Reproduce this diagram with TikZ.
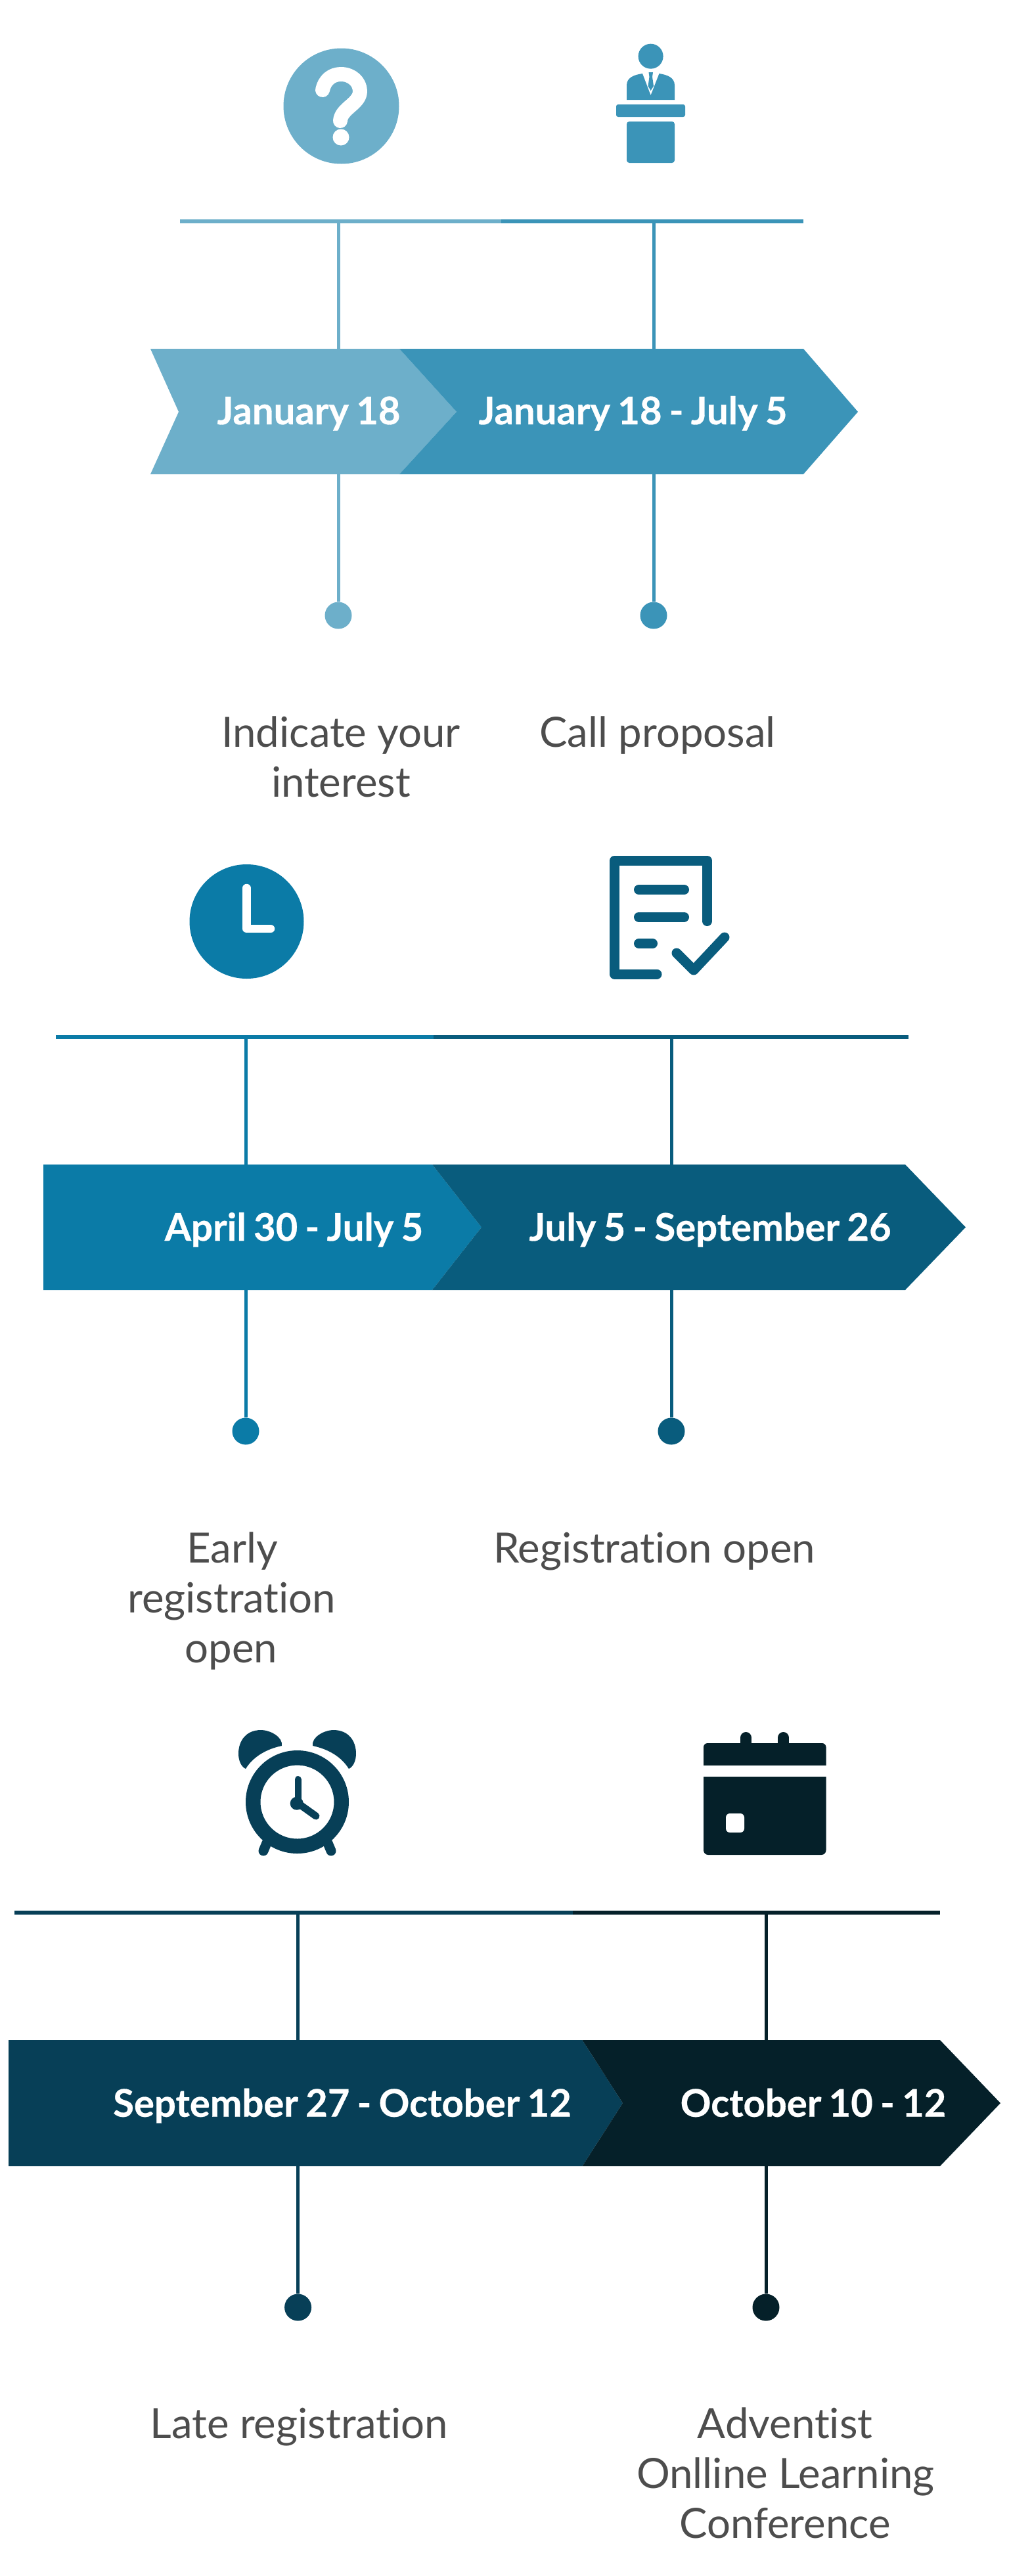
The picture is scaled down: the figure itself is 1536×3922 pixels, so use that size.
\documentclass[tikz,border=0pt]{standalone}
\usepackage{fontspec}
\setmainfont[Ligatures=NoCommon,BoldFeatures={FakeBold=0.5,WordSpace=0.8}]{Lato}
\definecolor{cA}{HTML}{6DAFCA}
\definecolor{cB}{HTML}{3B94B8}
\definecolor{cC}{HTML}{0B7BA7}
\definecolor{cD}{HTML}{095C7D}
\definecolor{cE}{HTML}{073F57}
\definecolor{cF}{HTML}{052029}
\definecolor{txt}{HTML}{4D4D4D}
\tikzset{
  x=1pt,y=-1pt,
  datetxt/.style={text=white,font=\fontsize{58}{58}\selectfont\bfseries,inner sep=0pt,anchor=base},
  lab/.style={text=txt,font=\fontsize{63.5}{76}\selectfont,inner sep=0pt,anchor=base},
  barline/.style={line width=6pt},
  vline/.style={line width=5pt},
  dotnode/.style={circle,inner sep=0pt,minimum size=41pt,fill=#1},
  iconline/.style={line cap=round,line join=round},
}
\begin{document}
\begin{tikzpicture}
\useasboundingbox (0,0) rectangle (1536,3922);
% ---------- row 1
\coordinate (b1l) at (274,337); \coordinate (b1m) at (763,337); \coordinate (b1r) at (1223,337);
\draw[barline,cA] (b1l) -- (b1m);
\draw[barline,cB] (b1m) -- (b1r);
\coordinate (t1a) at (515,337); \coordinate (t1b) at (995,337);
\node[dotnode=cA] (d1a) at (515,937) {};
\node[dotnode=cB] (d1b) at (995,937) {};
\draw[vline,cA] (t1a) -- (d1a);
\draw[vline,cB] (t1b) -- (d1b);
\fill[cA] (229,531) -- (608,531) -- (695,627) -- (608,722) -- (229,722) -- (272,627) -- cycle;
\fill[cB] (608,531) -- (1223,531) -- (1306,627) -- (1223,722) -- (608,722) -- (695,627) -- cycle;
\node[datetxt] (n1a) at (470,646) {January 18};
\node[datetxt] (n1b) at (963.5,646) {January 18 - July 5};
\node[lab] (l1a) at (519,1137) {Indicate your};
\node[lab] (l1a2) at (519,1213) {interest};
\node[lab] (l1b) at (1001,1137) {Call proposal};
% question icon
\fill[cA] (519.5,161.5) circle (88);
\draw[iconline,white,line width=22pt] (491,137) .. controls (494,122) and (505,113) .. (519,113) .. controls (536,113) and (548,125) .. (548,139) .. controls (548,158) and (519,165) .. (518,184);
\fill[white] (519,209) circle (12.5);
% podium icon
\fill[cB] (990.6,85.7) circle (19);
\fill[cB] (954,152) -- (954,130) .. controls (954,118) and (965,114) .. (978,112) -- (990.6,145) -- (1003.5,112) .. controls (1016,114) and (1027,118) .. (1027,130) -- (1027,152) -- cycle;
\fill[cB] (987.5,110) -- (994,110) -- (993,117) -- (995,131) -- (990.6,138) -- (986.5,131) -- (988.5,117) -- cycle;
\fill[cB,rounded corners=3pt] (938,159) rectangle (1043,178);
\fill[cB,rounded corners=4pt] (954,185) rectangle (1027,248);
% ---------- row 2
\coordinate (b2l) at (85,1579); \coordinate (b2m) at (660,1579); \coordinate (b2r) at (1383,1579);
\draw[barline,cC] (b2l) -- (b2m);
\draw[barline,cD] (b2m) -- (b2r);
\coordinate (t2a) at (374,1579); \coordinate (t2b) at (1022,1579);
\node[dotnode=cC] (d2a) at (374,2179) {};
\node[dotnode=cD] (d2b) at (1022,2179) {};
\draw[vline,cC] (t2a) -- (d2a);
\draw[vline,cD] (t2b) -- (d2b);
\fill[cC] (66,1773) -- (658,1773) -- (733,1868.5) -- (658,1964) -- (66,1964) -- cycle;
\fill[cD] (658,1773) -- (1378,1773) -- (1470,1868.5) -- (1378,1964) -- (658,1964) -- (733,1868.5) -- cycle;
\node[datetxt] (n2a) at (447.5,1889) {April 30 - July 5};
\node[datetxt] (n2b) at (1081,1889) {July 5 - September 26};
\node[lab] (l2a) at (353.5,2379) {Early};
\node[lab] (l2a2) at (352.7,2455) {registration};
\node[lab] (l2a3) at (352,2531) {open};
\node[lab] (l2b) at (996,2379) {Registration open};
% clock icon
\fill[cC] (375.5,1403) circle (87);
\draw[iconline,white,line width=12.5pt] (375.5,1352) -- (375.5,1414) -- (412,1414);
% document icon
\draw[iconline,cD,line width=15pt] (1000,1483) -- (935.5,1483) -- (935.5,1310) -- (1076.5,1310) -- (1076.5,1402.5);
\draw[iconline,cD,line width=15pt] (972.5,1354.5) -- (1041.5,1354.5);
\draw[iconline,cD,line width=15pt] (972.5,1396) -- (1041.5,1396);
\draw[iconline,cD,line width=15pt] (972.5,1436.5) -- (993.5,1436.5);
\draw[iconline,cD,line width=15pt] (1030,1451) -- (1056,1477) -- (1103,1427);
% ---------- row 3
\coordinate (b3l) at (22,2912); \coordinate (b3m) at (872,2912); \coordinate (b3r) at (1431,2912);
\draw[barline,cE] (b3l) -- (b3m);
\draw[barline,cF] (b3m) -- (b3r);
\coordinate (t3a) at (453.6,2912); \coordinate (t3b) at (1166,2912);
\node[dotnode=cE] (d3a) at (453.6,3513) {};
\node[dotnode=cF] (d3b) at (1166,3513) {};
\draw[vline,cE] (t3a) -- (d3a);
\draw[vline,cF] (t3b) -- (d3b);
\fill[cE] (13,3106) -- (886.5,3106) -- (948,3202) -- (886.5,3298) -- (13,3298) -- cycle;
\fill[cF] (886.5,3106) -- (1431,3106) -- (1523,3202) -- (1431,3298) -- (886.5,3298) -- (948,3202) -- cycle;
\node[datetxt] (n3a) at (521,3222.7) {September 27 - October 12};
\node[datetxt] (n3b) at (1238,3222.7) {October 10 - 12};
\node[lab] (l3a) at (455.5,3712) {Late registration};
\node[lab] (l3b) at (1195,3712) {Adventist};
\node[lab] (l3b2) at (1196,3788) {Onlline Learning};
\node[lab] (l3b3) at (1195,3864) {Conference};
% alarm clock icon
\fill[cE,even odd rule] (452.5,2743.5) circle (78.5) (452.5,2743.5) circle (56);
\fill[cE] (374,2693) .. controls (385,2675) and (405,2663) .. (429,2658) .. controls (431,2645) and (412,2634) .. (397,2634) .. controls (375,2634) and (363,2650) .. (363,2670) .. controls (363,2680) and (367,2690) .. (374,2693) -- cycle;
\fill[cE] (531,2693) .. controls (520,2675) and (500,2663) .. (476,2658) .. controls (474,2645) and (493,2634) .. (508,2634) .. controls (530,2634) and (542,2650) .. (542,2670) .. controls (542,2680) and (538,2690) .. (531,2693) -- cycle;
\draw[iconline,cE,line width=15pt] (406,2806) -- (401,2818);
\draw[iconline,cE,line width=15pt] (499,2806) -- (504,2818);
\draw[iconline,cE,line width=10pt] (453.5,2709) -- (453.5,2745);
\draw[iconline,cE,line width=11pt] (453,2745) -- (481,2765);
\fill[cE] (451.7,2745.7) circle (10);
% calendar icon
\draw[cF,line width=17pt,line cap=round] (1135.5,2645.5) -- (1135.5,2660);
\draw[cF,line width=17pt,line cap=round] (1192.5,2645.5) -- (1192.5,2660);
\fill[cF,rounded corners=6pt] (1071,2700) -- (1071,2654) -- (1257.5,2654) -- (1257.5,2700) -- cycle;
\fill[white] (1065,2688) rectangle (1265,2705);
\fill[cF,rounded corners=7pt] (1071,2695) -- (1071,2824) -- (1257.5,2824) -- (1257.5,2695) -- cycle;
\fill[white] (1065,2688) rectangle (1265,2705);
\fill[white,rounded corners=6pt] (1105,2761) rectangle (1133,2790);
\end{tikzpicture}
\end{document}
